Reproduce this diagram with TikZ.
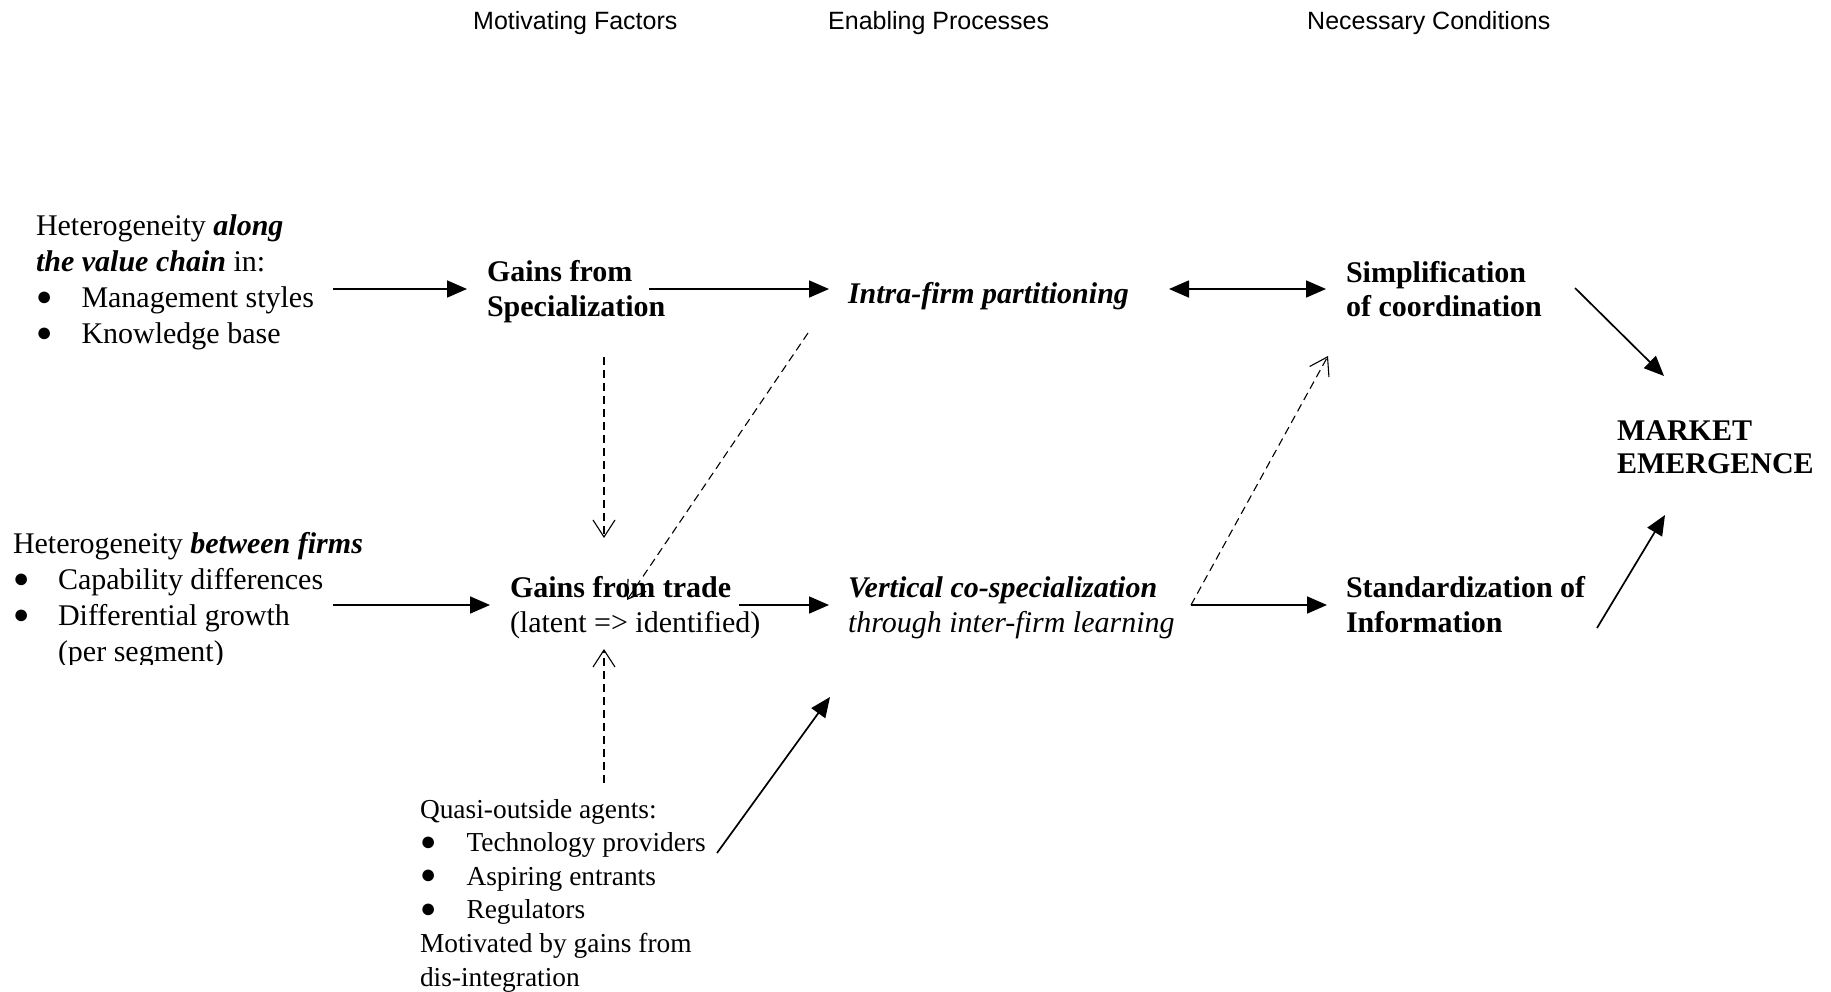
\documentclass[tikz,border=0pt]{standalone}
\usepackage{fontspec}
\setmainfont{Liberation Serif}
\newfontfamily\hdrfont{Liberation Sans}
\usetikzlibrary{arrows.meta}
\newcommand\tstrut{\rule{0pt}{24pt}}
\newcommand\bigbul{\raisebox{1.5pt}{\fontsize{27}{27}\selectfont ●}}
\newcommand\bul[2]{\makebox[#1][l]{\bigbul}#2}
\begin{document}
\begin{tikzpicture}[x=1pt,y=-1pt,
  txt/.style={anchor=north west, inner sep=0pt, outer sep=0pt, align=left},
  one/.style={anchor=base west, inner sep=0pt, outer sep=0pt},
  hdr/.style={anchor=base west, inner sep=0pt, font=\hdrfont\fontsize{25}{30}\selectfont},
  arr/.style={line width=1.7pt, -{Triangle[length=20pt,width=17pt]}},
  darr/.style={line width=1.1pt, dash pattern=on 8pt off 5pt,
    -{Straight Barb[length=17pt,width=22pt,line width=1.1pt]}}
]
\useasboundingbox (0,0) rectangle (1831,991);

% headers
\node[hdr] (h1) at (473,29) {Motivating Factors};
\node[hdr] (h2) at (828,29) {Enabling Processes};
\node[hdr] (h3) at (1307,29) {Necessary Conditions};

% left blocks
\node[txt, font=\fontsize{30}{36}\selectfont] (hva) at (36,211)
  {\tstrut Heterogeneity \textbf{\textit{along}}\\
   \textbf{\textit{the value chain}} in:\\
   \bul{45.5pt}{Management styles}\\
   \bul{45.5pt}{Knowledge base}};

\begin{scope}
\clip (0,500) rectangle (420,664);
\node[txt, font=\fontsize{30}{36}\selectfont] (hbf) at (13,529)
  {\tstrut Heterogeneity \textbf{\textit{between firms}}\\
   \bul{45pt}{Capability differences}\\
   \bul{45pt}{Differential growth}\\
   \hspace*{45pt}(per segment)};
\end{scope}

\node[txt, font=\fontsize{27.4}{33.6}\selectfont] (quasi) at (420,794)
  {\tstrut Quasi-outside agents:\\
   \bul{46.5pt}{Technology providers}\\
   \bul{46.5pt}{Aspiring entrants}\\
   \bul{46.5pt}{Regulators}\\
   Motivated by gains from\\
   dis-integration};

% middle / right
\node[txt, font=\bfseries\fontsize{30}{35}\selectfont] (gspec) at (487,257)
  {\tstrut Gains from\\Specialization};
\node[txt, font=\fontsize{30}{35}\selectfont] (gtrade) at (510,573)
  {\tstrut\textbf{Gains from trade}\\(latent => identified)};
\node[one, font=\bfseries\itshape\fontsize{30}{35}\selectfont] (intra) at (848,303)
  {Intra-firm partitioning};
\node[txt, font=\itshape\fontsize{30}{35}\selectfont] (vco) at (848,573)
  {\tstrut\textbf{Vertical co-specialization}\\through inter-firm learning};
\node[txt, font=\bfseries\fontsize{30}{34}\selectfont] (simpl) at (1346,258)
  {\tstrut Simplification\\of coordination};
\node[txt, font=\bfseries\fontsize{30}{35}\selectfont] (std) at (1346,573)
  {\tstrut Standardization of\\Information};
\node[txt, font=\bfseries\fontsize{30}{33}\selectfont] (market) at (1617,416)
  {\tstrut MARKET\\EMERGENCE};

% connector end points
\coordinate (a1s) at (333,289);  \coordinate (a1e) at (467,289);
\coordinate (a2s) at (649,289);  \coordinate (a2e) at (829,289);
\coordinate (a3s) at (1169,289); \coordinate (a3e) at (1326,289);
\coordinate (a4s) at (1575,288); \coordinate (a4e) at (1664,376);
\coordinate (b1s) at (333,605);  \coordinate (b1e) at (490,605);
\coordinate (b2s) at (739,605);  \coordinate (b2e) at (829,605);
\coordinate (b3s) at (1191,605); \coordinate (b3e) at (1327,605);
\coordinate (b4s) at (1597,628); \coordinate (b4e) at (1665,515);
\coordinate (q1s) at (717,853);  \coordinate (q1e) at (830,697);
\coordinate (d1s) at (604,357);  \coordinate (d1e) at (604,538);
\coordinate (d2s) at (808,333);  \coordinate (d2e) at (627,600);
\coordinate (d3s) at (604,783);  \coordinate (d3e) at (604,649);
\coordinate (d4e) at (1328,356);

% solid connectors
\draw[arr] (a1s) -- (a1e);
\draw[arr] (a2s) -- (a2e);
\draw[line width=1.7pt, {Triangle[length=20pt,width=17pt]}-{Triangle[length=20pt,width=17pt]}] (a3s) -- (a3e);
\draw[arr] (a4s) -- (a4e);
\draw[arr] (b1s) -- (b1e);
\draw[arr] (b2s) -- (b2e);
\draw[arr] (b3s) -- (b3e);
\draw[arr] (b4s) -- (b4e);
\draw[arr] (q1s) -- (q1e);

% dashed connectors
\draw[darr] (d1s) -- (d1e);
\draw[darr] (d2s) -- (d2e);
\draw[darr] (d3s) -- (d3e);
\draw[darr] (b3s) -- (d4e);
\end{tikzpicture}
\end{document}
